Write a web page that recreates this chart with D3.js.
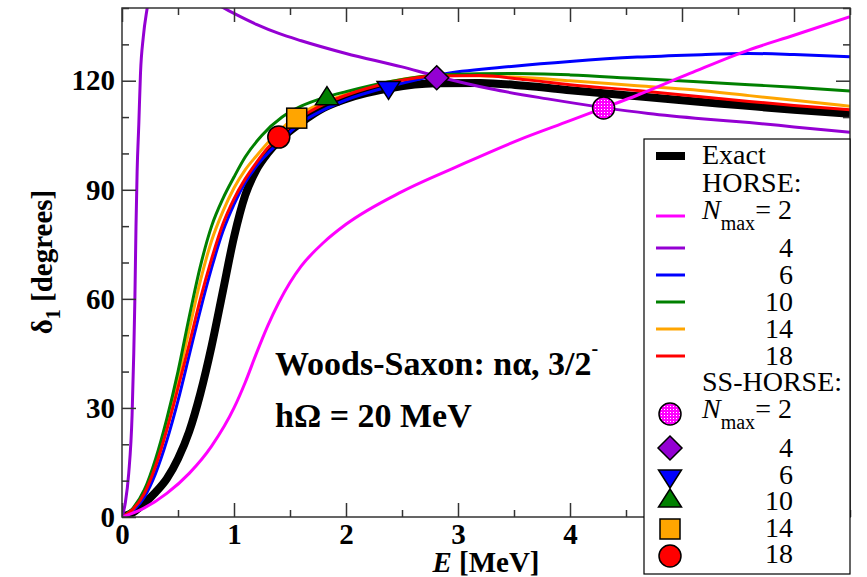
<!DOCTYPE html>
<html>
<head>
<meta charset="utf-8">
<script src="https://cdn.jsdelivr.net/npm/d3@7"></script>
<style>
  body { margin: 0; background: #fff; }
  svg { display: block; font-family: "Liberation Serif", "DejaVu Serif", serif; }
</style>
</head>
<body>
<svg id="chart" width="867" height="577"></svg>
<script>
// phase shift curves: [E (MeV), delta_1 (deg)]
var exact = [[0,0],[0.1,1.3],[0.2,3.8],[0.3,6.8],[0.4,10.5],[0.5,16],[0.6,23.5],[0.7,34],[0.8,47],
  [0.9,62],[1.0,77],[1.1,88.5],[1.2,95.5],[1.3,100],[1.4,103.5],[1.6,108.5],[1.8,112.5],
  [2.0,115],[2.4,118],[2.8,119.3],[3.2,119.4],[3.6,118.6],[4.0,117.4],[4.5,116],[5.0,114.6],[5.5,113.3],
  [6.0,112],[6.5,110.9]];
var horse2 = [[0,0],[0.2,2.5],[0.4,6.5],[0.6,12],[0.8,19.5],[1.0,30],[1.1,37],[1.2,45],[1.3,52.5],
  [1.4,59],[1.5,64.5],[1.6,69],[1.8,75.5],[2.0,80.5],[2.5,89.5],[3.0,96.5],[3.55,103.8],[4.0,109],
  [4.3,112.5],[4.6,116],[5.07,122],[5.6,128.5],[6.0,132.5],[6.5,137.6]];
var horse4a = [[0,0],[0.03,4],[0.06,12],[0.09,28],[0.105,45],[0.115,60],[0.125,80],[0.135,95],
  [0.15,108],[0.165,122],[0.19,132],[0.225,140],[0.24,143]];
var horse4b = [[0.85,141],[1.0,138.5],[1.2,135.5],[1.4,133],[1.6,131],[2.0,127.5],[2.5,123.8],[2.8,121.3],
  [3.3,117.7],[3.8,115],[4.3,112.6],[4.7,111],[5.2,109.5],[5.6,108.5],[6.0,107.3],[6.5,105.8]];
var horse6 = [[0,0],[0.1,1.8],[0.2,5.5],[0.3,12],[0.4,21],[0.5,32],[0.6,44.5],[0.7,57],[0.8,68.5],
  [0.9,78.5],[1.0,86],[1.1,92],[1.2,96.5],[1.4,103],[1.6,108.5],[1.8,112],[2.0,114.7],[2.4,118.5],[2.9,122],
  [3.5,124],[4.0,125.3],[4.6,126.5],[5.1,127.1],[5.6,127.5],[6.0,127.2],[6.5,126.6]];
var horse10 = [[0,0],[0.1,2.5],[0.2,7.5],[0.3,16],[0.4,27],[0.5,40],[0.6,55],[0.7,69],[0.8,80],
  [0.9,87.5],[1.0,93.5],[1.1,99],[1.25,105],[1.43,110],[1.6,113],[1.82,115.5],[2.0,117],[2.4,119.8],
  [2.9,121.7],[3.5,122],[4.0,121.6],[4.6,120.6],[5.1,119.8],[5.6,118.9],[6.0,118.2],[6.5,117.2]];
var horse14 = [[0,0],[0.1,2.3],[0.2,7],[0.3,15],[0.4,25.5],[0.5,38],[0.6,51.5],[0.7,65],[0.8,76],
  [0.9,84],[1.0,90.5],[1.1,95.5],[1.2,99.3],[1.35,104.5],[1.55,110],[1.8,114],[2.0,116.3],[2.4,119.8],
  [2.9,121.5],[3.5,121],[4.0,120],[4.6,118.6],[5.1,117.5],[5.6,115.9],[6.0,114.6],[6.5,113]];
var horse18 = [[0,0],[0.1,2.2],[0.2,6.5],[0.3,14],[0.4,24],[0.5,35.5],[0.6,47.5],[0.7,60],[0.8,71],
  [0.9,80.5],[1.0,87.5],[1.1,93],[1.2,97.5],[1.3,101.5],[1.4,104.5],[1.6,110],[1.8,113.5],[2.0,116],
  [2.4,119.5],[2.8,121.3],[3.2,121.4],[3.6,120.3],[4.0,118.9],[4.6,117.3],[5.1,115.8],[5.6,114.3],
  [6.0,113.2],[6.5,112]];

// SS-HORSE points [E, delta]
var ssNmax = ["2", "4", "6", "10", "14", "18"];
var ssPoints = [[4.3,112.5],[2.81,120.8],[2.38,117.6],[1.83,115.6],[1.56,109.7],[1.40,104.5]];
var ssColors = ["#ff00ff", "#9400d3", "#0000ff", "#008000", "#ffa500", "#ff0000"];
var ssShapes = ["circleDots", "diamond", "triDown", "triUp", "square", "circle"];

var horseNmax = ["2", "4", "6", "10", "14", "18"];
var horseColors = ["#ff00ff", "#9400d3", "#0000ff", "#008000", "#ffa500", "#ff0000"];

var xTicks = [0, 1, 2, 3, 4, 5, 6];
var xMinor = [0.5, 1.5, 2.5, 3.5, 4.5, 5.5, 6.5];
var yTicks = [0, 30, 60, 90, 120];
var yMinor = [10, 20, 40, 50, 70, 80, 100, 110, 130, 140];

var svg = d3.select('#chart');
var plotL = 122, plotR = 850, plotT = 8, plotB = 517;

var x = d3.scaleLinear().domain([0, 6.5]).range([plotL, plotR]);
var y = d3.scaleLinear().domain([0, 140]).range([plotB, plotT]);

var defs = svg.append('defs');
defs.append('clipPath').attr('id', 'plotclip')
  .append('rect').attr('x', plotL).attr('y', plotT)
  .attr('width', plotR - plotL).attr('height', plotB - plotT);
var pat = defs.append('pattern').attr('id', 'dots')
  .attr('width', 3).attr('height', 3).attr('patternUnits', 'userSpaceOnUse');
pat.append('rect').attr('width', 3).attr('height', 3).attr('fill', '#ff00ff');
pat.append('rect').attr('x', 1).attr('y', 1).attr('width', 1).attr('height', 1).attr('fill', '#fff');

var line = d3.line()
  .x(function(d){ return x(d[0]); })
  .y(function(d){ return y(d[1]); })
  .curve(d3.curveMonotoneX);

var plot = svg.append('g').attr('clip-path', 'url(#plotclip)');

plot.append('path').datum(exact)
  .attr('d', line).attr('fill', 'none').attr('stroke', '#000').attr('stroke-width', 8);

var curves = [
  {data: horse6, color: horseColors[2]},
  {data: horse14, color: horseColors[4]},
  {data: horse10, color: horseColors[3]},
  {data: horse18, color: horseColors[5]},
  {data: horse4a, color: horseColors[1]},
  {data: horse4b, color: horseColors[1]},
  {data: horse2, color: horseColors[0]}
];
curves.forEach(function(c){
  plot.append('path').datum(c.data)
    .attr('d', line).attr('fill', 'none')
    .attr('stroke', c.color).attr('stroke-width', 3);
});

// marker drawing helper
function drawMarker(g, shape, color, cx, cy){
  var m;
  if (shape == 'circle' || shape == 'circleDots'){
    m = g.append('circle').attr('cx', cx).attr('cy', cy).attr('r', 11)
      .attr('fill', shape == 'circleDots' ? 'url(#dots)' : color);
  }
  else if (shape == 'square'){
    m = g.append('rect').attr('x', cx - 10).attr('y', cy - 10)
      .attr('width', 20).attr('height', 20).attr('fill', color);
  }
  else if (shape == 'diamond'){
    m = g.append('path')
      .attr('d', 'M' + cx + ',' + (cy - 12) + 'L' + (cx + 12) + ',' + cy + 'L' + cx + ',' + (cy + 12) +
        'L' + (cx - 12) + ',' + cy + 'Z')
      .attr('fill', color);
  }
  else if (shape == 'triDown'){
    m = g.append('path')
      .attr('d', 'M' + (cx - 11.5) + ',' + (cy - 8) + 'L' + (cx + 11.5) + ',' + (cy - 8) +
        'L' + cx + ',' + (cy + 10) + 'Z')
      .attr('fill', color);
  }
  else if (shape == 'triUp'){
    m = g.append('path')
      .attr('d', 'M' + (cx - 11.5) + ',' + (cy + 8) + 'L' + (cx + 11.5) + ',' + (cy + 8) +
        'L' + cx + ',' + (cy - 10) + 'Z')
      .attr('fill', color);
  }
  m.attr('stroke', '#000').attr('stroke-width', 1.5).attr('stroke-linejoin', 'miter');
}

var marks = svg.append('g');
ssPoints.forEach(function(p, i){
  drawMarker(marks, ssShapes[i], ssColors[i], x(p[0]), y(p[1]));
});

// axes: ticks inside on all four sides
var axisColor = '#333';
function styleAxis(g){
  g.select('.domain').remove();
  g.selectAll('.tick line').attr('stroke', axisColor).attr('stroke-width', 1.5);
  g.selectAll('.tick text').attr('fill', '#000')
    .style('font-family', '"Liberation Serif", serif')
    .style('font-size', '29px').style('font-weight', 'bold');
}

svg.append('g').attr('transform', 'translate(0,' + plotB + ')')
  .call(d3.axisBottom(x).tickValues(xTicks).tickSize(-14).tickPadding(6).tickFormat(d3.format('d')))
  .call(styleAxis);
svg.append('g').attr('transform', 'translate(0,' + plotB + ')')
  .call(d3.axisBottom(x).tickValues(xMinor).tickSize(-7).tickFormat(''))
  .call(styleAxis);
svg.append('g').attr('transform', 'translate(0,' + plotT + ')')
  .call(d3.axisTop(x).tickValues(xTicks).tickSize(-14).tickFormat(''))
  .call(styleAxis);
svg.append('g').attr('transform', 'translate(0,' + plotT + ')')
  .call(d3.axisTop(x).tickValues(xMinor).tickSize(-7).tickFormat(''))
  .call(styleAxis);
svg.append('g').attr('transform', 'translate(' + plotL + ',0)')
  .call(d3.axisLeft(y).tickValues(yTicks).tickSize(-14).tickPadding(7).tickFormat(d3.format('d')))
  .call(styleAxis);
svg.append('g').attr('transform', 'translate(' + plotL + ',0)')
  .call(d3.axisLeft(y).tickValues(yMinor).tickSize(-7).tickFormat(''))
  .call(styleAxis);
svg.append('g').attr('transform', 'translate(' + plotR + ',0)')
  .call(d3.axisRight(y).tickValues(yTicks).tickSize(-14).tickFormat(''))
  .call(styleAxis);
svg.append('g').attr('transform', 'translate(' + plotR + ',0)')
  .call(d3.axisRight(y).tickValues(yMinor).tickSize(-7).tickFormat(''))
  .call(styleAxis);

svg.append('rect').attr('x', plotL).attr('y', plotT)
  .attr('width', plotR - plotL).attr('height', plotB - plotT)
  .attr('fill', 'none').attr('stroke', axisColor).attr('stroke-width', 1.5);

// axis titles
var xt = svg.append('text').attr('x', (plotL + plotR) / 2).attr('y', 572)
  .attr('text-anchor', 'middle').style('font-size', '29px').style('font-weight', 'bold');
xt.append('tspan').style('font-style', 'italic').text('E');
xt.append('tspan').text(' [MeV]');

var yt = svg.append('text')
  .attr('transform', 'translate(52,262) rotate(-90)')
  .attr('text-anchor', 'middle').style('font-size', '29px').style('font-weight', 'bold');
yt.append('tspan').text('δ');
yt.append('tspan').attr('dy', 8).style('font-size', '20px').text('1');
yt.append('tspan').attr('dy', -8).text(' [degrees]');

// annotation
var a1 = svg.append('text').attr('x', 275).attr('y', 375)
  .style('font-size', '34px').style('font-weight', 'bold');
a1.append('tspan').text('Woods-Saxon: nα, 3/2');
a1.append('tspan').attr('dy', -20).style('font-size', '20px').text('-');
svg.append('text').attr('x', 275).attr('y', 427)
  .style('font-size', '34px').style('font-weight', 'bold')
  .text('hΩ = 20 MeV');

// legend
var lg = svg.append('g');
lg.append('rect').attr('x', 644).attr('y', 139).attr('width', 206).attr('height', 435)
  .attr('fill', '#fff').attr('stroke', '#000').attr('stroke-width', 1.2);

var textX = 702, numRight = 793, symX = 670;
function legendText(txt, yy, anchor, xx){
  return lg.append('text').attr('x', xx).attr('y', yy)
    .attr('text-anchor', anchor).style('font-size', '28px').text(txt);
}
function nmaxLabel(yy, val){
  var t = lg.append('text').attr('x', textX).attr('y', yy).style('font-size', '28px');
  t.append('tspan').style('font-style', 'italic').text('N');
  t.append('tspan').attr('dy', 11).style('font-size', '20px').text('max');
  t.append('tspan').attr('dy', -11).text('= ' + val);
}

lg.append('line').attr('x1', 656).attr('x2', 685).attr('y1', 156).attr('y2', 156)
  .attr('stroke', '#000').attr('stroke-width', 8);
legendText('Exact', 164, 'start', textX);
legendText('HORSE:', 192, 'start', textX);

var horseLineY = [216, 248, 275, 302, 329, 356];
horseNmax.forEach(function(n, i){
  lg.append('line').attr('x1', 656).attr('x2', 685)
    .attr('y1', horseLineY[i]).attr('y2', horseLineY[i])
    .attr('stroke', horseColors[i]).attr('stroke-width', 3);
  if (i == 0) nmaxLabel(219, n);
  else legendText(n, horseLineY[i] + 9, 'end', numRight);
});

legendText('SS-HORSE:', 391, 'start', textX);
var ssSymY = [414, 448, 478, 499, 529, 556];
var ssTextY = [418, 457, 484, 510, 537, 563];
ssNmax.forEach(function(n, i){
  drawMarker(lg, ssShapes[i], ssColors[i], symX, ssSymY[i]);
  if (i == 0) nmaxLabel(ssTextY[i], n);
  else legendText(n, ssTextY[i], 'end', numRight);
});
</script>
</body>
</html>
